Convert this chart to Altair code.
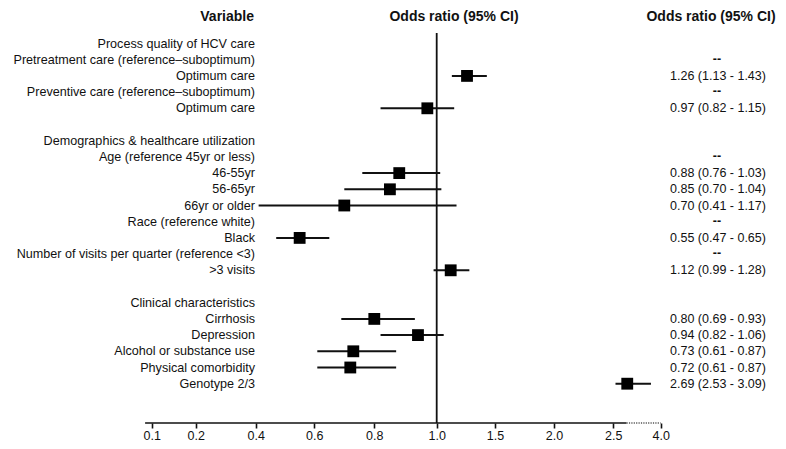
import altair as alt
import pandas as pd

# ---------------- data ----------------
labels = [
    "Process quality of HCV care",
    "Pretreatment care (reference\u2013suboptimum)",
    "Optimum care",
    "Preventive care (reference\u2013suboptimum)",
    "Optimum care",
    "",
    "Demographics & healthcare utilization",
    "Age (reference 45yr or less)",
    "46-55yr",
    "56-65yr",
    "66yr or older",
    "Race (reference white)",
    "Black",
    "Number of visits per quarter (reference <3)",
    ">3 visits",
    "",
    "Clinical characteristics",
    "Cirrhosis",
    "Depression",
    "Alcohol or substance use",
    "Physical comorbidity",
    "Genotype 2/3",
]
kinds = ["head", "ref", "est", "ref", "est", "blank",
         "head", "ref", "est", "est", "est", "ref", "est", "ref", "est", "blank",
         "head", "est", "est", "est", "est", "est"]
odds = [None, None, 1.26, None, 0.97, None,
        None, None, 0.88, 0.85, 0.70, None, 0.55, None, 1.12, None,
        None, 0.80, 0.94, 0.73, 0.72, 2.69]
lower = [None, None, 1.13, None, 0.82, None,
         None, None, 0.76, 0.70, 0.41, None, 0.47, None, 0.99, None,
         None, 0.69, 0.82, 0.61, 0.61, 2.53]
upper = [None, None, 1.43, None, 1.15, None,
         None, None, 1.03, 1.04, 1.17, None, 0.65, None, 1.28, None,
         None, 0.93, 1.06, 0.87, 0.87, 3.09]

tick_values = [0.1, 0.2, 0.4, 0.6, 0.8, 1.0, 1.5, 2.0, 2.5, 4.0]
headers = ["Variable", "Odds ratio (95% CI)", "Odds ratio (95% CI)"]

# custom broken axis (piecewise linear scale: value -> pixel)
x_domain = [0.1, 0.2, 0.4, 0.6, 0.8, 1.0, 1.5, 2.0, 2.5, 3.0, 4.0]
x_range = [143.7, 187.7, 247.7, 306.3, 366.3, 428.7, 487, 546, 605.3, 642, 652.7]
axis_start, axis_break, axis_end = 0.085, 2.68, 4.0
ref_value = 1.0
n_rows = len(labels)

W, H = 770, 415
ROW0, ROWSTEP = 35.5, 16.2

rows = list(range(n_rows))
df = pd.DataFrame({"row": rows, "label": labels, "kind": kinds,
                   "odds": odds, "lower": lower, "upper": upper})


def ci_text(k, o, lo, hi):
    if k == "est":
        return f"{o:.2f} ({lo:.2f} - {hi:.2f})"
    return ""


df["ci_text"] = [ci_text(k, o, lo, hi) for k, o, lo, hi in zip(kinds, odds, lower, upper)]
est = df[df["kind"] == "est"]
refs = df[df["kind"] == "ref"].assign(dash="--")
lab = df[df["label"] != ""]

FONT = "Liberation Sans"
INK = "#111111"

xscale = alt.Scale(type="linear", domain=x_domain, range=x_range,
                   nice=False, zero=False)
yscale = alt.Scale(domain=[0, n_rows - 1],
                   range=[ROW0, ROW0 + ROWSTEP * (n_rows - 1)],
                   nice=False, zero=False)
top_row = (25 - ROW0) / ROWSTEP
bottom_row = (H - ROW0) / ROWSTEP
header_row = (8.5 - ROW0) / ROWSTEP

xaxis = alt.Axis(values=tick_values, format=".1f", title=None, domain=False,
                 grid=False, ticks=True, tickSize=5, tickWidth=1.6,
                 tickColor=INK, labelColor=INK, labelFont=FONT,
                 labelFontSize=12.5, labelPadding=1, labelFlush=False,
                 labelOverlap=False)

ref_df = pd.DataFrame({"x": [ref_value], "y": [top_row], "y2": [bottom_row]})
ref_line = alt.Chart(ref_df).mark_rule(color=INK, strokeWidth=1.8).encode(
    x=alt.X("x:Q", scale=xscale, axis=xaxis),
    y=alt.Y("y:Q", scale=yscale, axis=None),
    y2="y2:Q",
)

axis_df = pd.DataFrame({"x": [axis_start], "x2": [axis_break], "y": [bottom_row]})
axis_solid = alt.Chart(axis_df).mark_rule(color=INK, strokeWidth=1.5).encode(
    x=alt.X("x:Q", scale=xscale, axis=xaxis),
    x2="x2:Q",
    y=alt.Y("y:Q", scale=yscale, axis=None),
)
dot_df = pd.DataFrame({"x": [axis_break], "x2": [axis_end], "y": [bottom_row]})
axis_dotted = alt.Chart(dot_df).mark_rule(color="#555555", strokeWidth=1.4,
                                          strokeDash=[1.2, 1.2]).encode(
    x=alt.X("x:Q", scale=xscale, axis=xaxis),
    x2="x2:Q",
    y=alt.Y("y:Q", scale=yscale, axis=None),
)

ci = alt.Chart(est).mark_rule(color=INK, strokeWidth=2).encode(
    x=alt.X("lower:Q", scale=xscale, axis=xaxis),
    x2="upper:Q",
    y=alt.Y("row:Q", scale=yscale, axis=None),
)

squares = alt.Chart(est).mark_square(size=140, color="black", opacity=1,
                                     filled=True).encode(
    x=alt.X("odds:Q", scale=xscale, axis=xaxis),
    y=alt.Y("row:Q", scale=yscale, axis=None),
)

label_text = alt.Chart(lab).mark_text(align="right", baseline="middle",
                                      font=FONT, fontSize=12.6, color=INK).encode(
    x=alt.value(247),
    y=alt.Y("row:Q", scale=yscale, axis=None),
    text="label:N",
)

ci_txt = alt.Chart(est).mark_text(align="center", baseline="middle",
                                  font=FONT, fontSize=12.5, color=INK).encode(
    x=alt.value(710),
    y=alt.Y("row:Q", scale=yscale, axis=None),
    text="ci_text:N",
)

dash_txt = alt.Chart(refs).mark_text(align="center", baseline="middle",
                                     font=FONT, fontSize=12.5, fontWeight="bold",
                                     color=INK, dy=-1).encode(
    x=alt.value(709),
    y=alt.Y("row:Q", scale=yscale, axis=None),
    text="dash:N",
)

hdr_df = pd.DataFrame({"h": headers, "y": [header_row] * 3})
hdr1 = alt.Chart(hdr_df.iloc[[0]]).mark_text(align="right", baseline="middle",
                                             font=FONT, fontSize=14, fontWeight="bold",
                                             color=INK).encode(
    x=alt.value(246), y=alt.Y("y:Q", scale=yscale, axis=None), text="h:N")
hdr2 = alt.Chart(hdr_df.iloc[[1]]).mark_text(align="center", baseline="middle",
                                             font=FONT, fontSize=14, fontWeight="bold",
                                             color=INK).encode(
    x=alt.value(446), y=alt.Y("y:Q", scale=yscale, axis=None), text="h:N")
hdr3 = alt.Chart(hdr_df.iloc[[2]]).mark_text(align="center", baseline="middle",
                                             font=FONT, fontSize=14, fontWeight="bold",
                                             color=INK).encode(
    x=alt.value(703), y=alt.Y("y:Q", scale=yscale, axis=None), text="h:N")

chart = alt.layer(
    ref_line, axis_solid, axis_dotted, ci, squares,
    label_text, ci_txt, dash_txt, hdr1, hdr2, hdr3,
).properties(
    width=W, height=H,
    padding={"left": 0, "top": 0, "right": 0, "bottom": 18},
    autosize=alt.AutoSizeParams(type="none"),
    background="white",
).configure_view(stroke=None)

chart.save("out.html", embed_options={"renderer": "svg", "actions": False})
